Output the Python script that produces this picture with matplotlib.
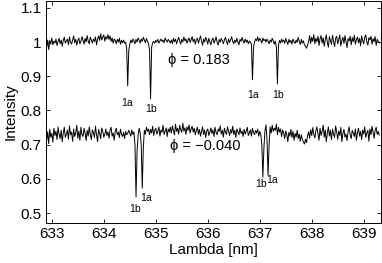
import numpy as np
import matplotlib
matplotlib.use('Agg')
import matplotlib.pyplot as plt

plt.rcParams['font.family'] = ['Liberation Sans', 'DejaVu Sans']

# wavelength grid, 0.02 nm step
lam_start = 632.9
lam_step = 0.02

# phase 0.183 spectrum (intensity x 1000)
upper = [
    985, 1006, 978, 1005, 994, 1012, 992, 1003, 997, 1009, 990, 1002, 1011, 995, 1006, 988, 1005, 1014, 997, 1003,
    1009, 992, 1015, 1000, 994, 1006, 1018, 998, 1008, 991, 1005, 1012, 995, 1002, 1016, 1005, 994, 1011, 1000, 1019,
    1003, 995, 1014, 1006, 997, 1009, 1002, 1015, 992, 1008, 1018, 1005, 1024, 1006, 1014, 1021, 1003, 1016, 1009, 1022,
    1008, 1018, 1002, 1012, 997, 1009, 1005, 995, 1008, 1000, 1011, 994, 1005, 998, 1006, 997, 1000, 980, 872, 975,
    994, 1006, 998, 1009, 1003, 995, 1008, 1000, 1012, 1005, 997, 1009, 1002, 1014, 1006, 998, 1011, 1003, 995, 978,
    834, 985, 998, 1002, 997, 1005, 1000, 1008, 997, 1003, 1009, 1002, 1006, 998, 1012, 1005, 1000, 1008, 1003, 997,
    1006, 996, 1011, 1001, 1009, 995, 1005, 1014, 1003, 994, 1008, 1000, 1015, 1004, 1009, 997, 1006, 1012, 999, 1008,
    1016, 1001, 1009, 994, 1006, 1012, 997, 1008, 1018, 1003, 991, 1009, 1000, 1014, 1006, 994, 1011, 1002, 992, 1006,
    1012, 997, 1005, 1015, 999, 991, 1008, 1000, 1011, 1004, 995, 1006, 1014, 1002, 993, 1009, 999, 1008, 1016, 1002,
    995, 1006, 999, 1011, 1000, 992, 1008, 1002, 1014, 1004, 997, 1009, 1000, 1006, 995, 1003, 1000, 994, 890, 985,
    1000, 1009, 1004, 1015, 1002, 1011, 1006, 997, 1012, 1004, 1008, 1000, 1009, 1002, 995, 1006, 1000, 1011, 1004, 994,
    1003, 985, 878, 990, 1005, 997, 1009, 1000, 1006, 996, 1011, 1002, 993, 1008, 999, 1005, 994, 1009, 1001, 996,
    1006, 999, 1014, 1002, 993, 1008, 997, 1004, 992, 988, 982, 991, 1001, 1019, 996, 1014, 1002, 1022, 995, 1011,
    1001, 1017, 990, 1010, 1019, 997, 1013, 988, 1007, 1021, 1000, 985, 1016, 1004, 993, 1020, 1002, 987, 1011, 1017,
    995, 1008, 1021, 989, 1005, 1014, 996, 1019, 1001, 984, 1010, 1003, 1017, 992, 1013, 1001, 1020, 994, 1007, 1015,
    998, 1011, 989, 1018, 1004, 995, 1014, 1021, 1000, 991, 1013, 1006, 1017, 994, 1010, 1001, 1016, 990, 1008, 1002,
    998,
]

# phase -0.040 spectrum (intensity x 1000)
lower = [
    712, 738, 703, 745, 722, 733, 707, 748, 727, 739, 715, 752, 730, 718, 742, 709, 734, 751, 721, 731,
    743, 716, 755, 729, 737, 710, 746, 724, 734, 757, 719, 740, 713, 751, 730, 724, 748, 734, 712, 742,
    725, 752, 731, 715, 743, 736, 721, 754, 729, 709, 745, 733, 718, 749, 739, 722, 731, 746, 727, 737,
    719, 742, 751, 725, 734, 713, 740, 748, 729, 737, 721, 745, 731, 724, 736, 718, 739, 729, 733, 742,
    734, 725, 743, 730, 737, 700, 547, 680, 728, 748, 735, 700, 573, 690, 742, 731, 751, 739, 746, 729,
    745, 734, 754, 727, 742, 748, 731, 739, 752, 725, 743, 736, 757, 730, 740, 749, 724, 746, 737, 751,
    734, 755, 742, 729, 760, 739, 748, 731, 757, 743, 736, 763, 740, 749, 730, 752, 742, 758, 734, 746,
    754, 737, 748, 729, 742, 751, 731, 745, 725, 739, 752, 730, 743, 721, 740, 746, 727, 737, 749, 733,
    743, 724, 751, 736, 729, 746, 739, 755, 731, 742, 722, 748, 737, 730, 752, 740, 727, 745, 734, 754,
    730, 742, 721, 746, 737, 729, 749, 733, 740, 724, 745, 731, 739, 751, 727, 734, 743, 725, 748, 736,
    729, 742, 734, 746, 725, 739, 730, 700, 605, 690, 740, 758, 715, 610, 700, 752, 734, 757, 739, 748,
    742, 760, 729, 751, 737, 746, 724, 743, 734, 718, 740, 730, 709, 736, 725, 745, 721, 739, 713, 733,
    722, 742, 718, 731, 710, 729, 716, 708, 702, 716, 706, 726, 738, 719, 744, 727, 750, 730, 720, 741,
    752, 731, 713, 748, 727, 739, 757, 722, 743, 709, 734, 752, 725, 742, 715, 746, 731, 721, 755, 737,
    716, 740, 727, 751, 709, 734, 745, 722, 731, 712, 739, 752, 729, 718, 742, 734, 724, 746, 713, 736,
    748, 725, 739, 715, 743, 731, 752, 721, 734, 742, 710, 746, 729, 754, 737, 719, 742, 751, 730, 739,
    728,
]

# line labels: (text, lambda, intensity)
line_labels = [
    ('1a', 634.44, 0.823), ('1b', 634.90, 0.805),
    ('1a', 636.87, 0.846), ('1b', 637.35, 0.846),
    ('1b', 634.60, 0.513), ('1a', 634.82, 0.545),
    ('1b', 637.02, 0.585), ('1a', 637.23, 0.598),
]
phases = [('\u03d5 = 0.183', 635.83, 0.948), ('\u03d5 = \u22120.040', 635.95, 0.695)]

yticks = [0.5, 0.6, 0.7, 0.8, 0.9, 1.0, 1.1]
ytick_labels = ['0.5', '0.6', '0.7', '0.8', '0.9', '1', '1.1']
xticks = [633, 634, 635, 636, 637, 638, 639]

lam = lam_start + lam_step * np.arange(len(upper))

fig = plt.figure(figsize=(3.82, 2.63), dpi=100)
ax = fig.add_axes([0.120, 0.152, 0.877, 0.844])

ax.plot(lam, np.array(upper) / 1000.0, color='black', lw=0.7)
ax.plot(lam, np.array(lower) / 1000.0, color='black', lw=0.7)

for txt, x, y in line_labels:
    ax.text(x, y, txt, fontsize=7.5, ha='center', va='center')
for txt, x, y in phases:
    ax.text(x, y, txt, fontsize=10.5, ha='center', va='center')

ax.set_xlim(632.885, 639.33)
ax.set_ylim(0.471, 1.12)
ax.set_xticks(xticks)
ax.set_xticklabels([str(t) for t in xticks])
ax.set_yticks(yticks)
ax.set_yticklabels(ytick_labels)
ax.tick_params(direction='in', top=True, right=True, labelsize=11, length=3, width=0.6, pad=3)
for s in ax.spines.values():
    s.set_linewidth(0.7)

ax.set_xlabel('Lambda [nm]', fontsize=11, labelpad=1)
ax.set_ylabel('Intensity', fontsize=11, labelpad=2)

fig.savefig('out.png', dpi=100)
